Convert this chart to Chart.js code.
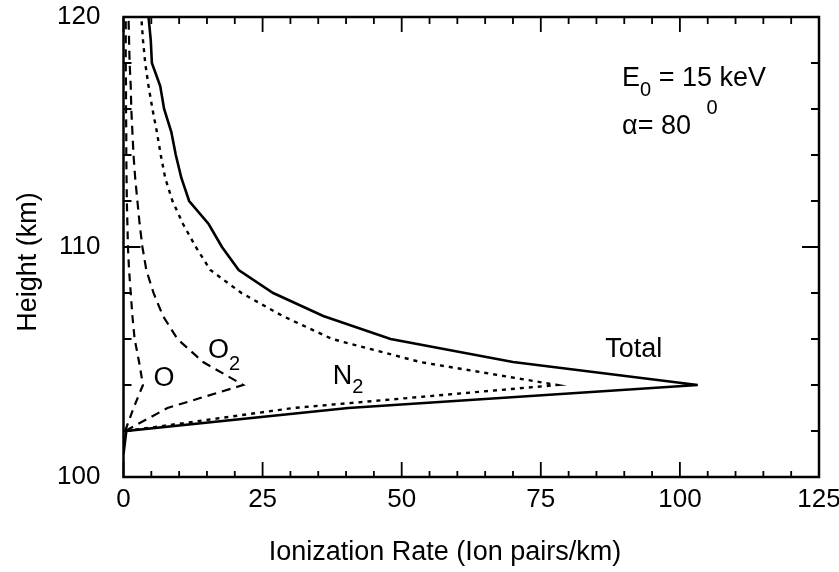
<!DOCTYPE html>
<html><head><meta charset="utf-8">
<script src="https://cdn.jsdelivr.net/npm/chart.js@4/dist/chart.umd.min.js"></script>
<style>html,body{margin:0;padding:0;background:#fff}#wrap{width:839px;height:572px}</style>
</head><body><div id="wrap"><canvas id="c" width="839" height="572"></canvas></div>
<script>
// Heights (km) and ionization rates (ion pairs/km)
const heights = [101, 102, 103, 104, 105, 106, 107, 108, 109, 110, 111, 112, 113, 114, 115, 116, 117, 118, 119, 120];
const total   = [0, 0.5, 40.4, 103.2, 70, 48, 35.9, 26.9, 20.7, 17.7, 15.3, 11.8, 10.4, 9.4, 8.6, 7.3, 6.6, 5.1, 4.9, 4.5];
const n2      = [null, 0.5, 30.5, 78, 53.3, 37.5, 28.6, 21.2, 15.6, 13.0, 10.7, 8.8, 7.5, 6.7, 6.0, 5.2, 4.5, 3.9, 3.5, 3.2];
const o2      = [null, 0.3, 7.9, 21.5, 14.3, 9.7, 7.1, 5.4, 4.1, 3.4, 2.9, 2.5, 2.1, 1.8, 1.6, 1.4, 1.3, 1.1, 1.0, 0.9];
const oAtom   = [null, 0.3, 1.8, 3.5, 2.8, 2.0, 1.6, 1.3, 1.0, 0.8, 0.7, 0.6, 0.55, 0.5, 0.5, 0.45, 0.45, 0.4, 0.4, 0.4];
const xTickLabels = [0, 25, 50, 75, 100, 125];
const yTickLabels = [100, 110, 120];

const FONT = '"Liberation Sans", Arial, Helvetica, sans-serif';

function pts(vals) {
  const out = [];
  vals.forEach((v, i) => { if (v !== null) out.push({x: v, y: heights[i]}); });
  return out;
}

const framePlugin = {
  id: 'frame',
  afterDatasetsDraw(chart) {
    const {ctx, chartArea: a, scales: {x, y}} = chart;
    ctx.save();
    ctx.strokeStyle = '#000';
    ctx.lineWidth = 2.5;
    ctx.strokeRect(a.left, a.top, a.right - a.left, a.bottom - a.top);
    ctx.lineWidth = 1.8;
    for (let v = 0; v <= 125; v += 5) {
      const px = x.getPixelForValue(v);
      const major = v % 25 === 0;
      const lb = major ? 15 : 6, lt = major ? 15 : 7;
      ctx.beginPath();
      ctx.moveTo(px, a.bottom); ctx.lineTo(px, a.bottom - lb);
      ctx.moveTo(px, a.top); ctx.lineTo(px, a.top + lt);
      ctx.stroke();
    }
    for (let v = 100; v <= 120; v += 2) {
      const py = y.getPixelForValue(v);
      const major = v % 10 === 0;
      const l = major ? 17 : 8;
      ctx.beginPath();
      ctx.moveTo(a.left, py); ctx.lineTo(a.left + l, py);
      ctx.moveTo(a.right, py); ctx.lineTo(a.right - l, py);
      ctx.stroke();
    }
    ctx.fillStyle = '#000';
    ctx.textBaseline = 'alphabetic';
    const big = '27px ' + FONT, small = '20px ' + FONT;
    function put(parts, xv, yv, align) {
      let px = x.getPixelForValue(xv);
      const py = y.getPixelForValue(yv);
      if (align === 'center') {
        let w = 0;
        parts.forEach(p => { ctx.font = p.f; w += ctx.measureText(p.t).width + (p.gap || 0); });
        px -= w / 2;
      }
      parts.forEach(p => {
        ctx.font = p.f;
        ctx.textAlign = 'left';
        ctx.fillText(p.t, px + (p.gap || 0), py + (p.dy || 0));
        px += ctx.measureText(p.t).width + (p.gap || 0);
      });
    }
    put([{t: 'Total', f: big}], 91.7, 105.2, 'center');
    put([{t: 'O', f: big}], 7.3, 103.96, 'center');
    put([{t: 'O', f: big}, {t: '2', f: small, dy: 12}], 15.2, 105.17);
    put([{t: 'N', f: big}, {t: '2', f: small, dy: 9}], 37.6, 104.04);
    put([{t: 'E', f: big}, {t: '0', f: small, dy: 10}, {t: ' = 15 keV', f: big}], 89.6, 117.0);
    put([{t: '\u03b1= 80 ', f: big}, {t: '0', f: small, dy: -20, gap: 8}], 89.6, 114.91);
    ctx.restore();
  }
};

const common = {pointRadius: 0, borderColor: '#000', backgroundColor: '#000', showLine: true, tension: 0, fill: false};

new Chart(document.getElementById('c'), {
  type: 'scatter',
  data: {
    datasets: [
      Object.assign({label: 'Total', data: pts(total), borderWidth: 2.6}, common),
      Object.assign({label: 'N2', data: pts(n2), borderWidth: 2.4, borderDash: [4, 5]}, common),
      Object.assign({label: 'O2', data: pts(o2), borderWidth: 2.2, borderDash: [9, 6]}, common),
      Object.assign({label: 'O', data: pts(oAtom), borderWidth: 2.2, borderDash: [8, 6]}, common)
    ]
  },
  options: {
    responsive: false,
    animation: false,
    devicePixelRatio: 1,
    layout: {padding: {top: 17, right: 20, left: 0, bottom: 0}},
    plugins: {legend: {display: false}, tooltip: {enabled: false}},
    scales: {
      x: {
        type: 'linear', min: 0, max: 125,
        afterBuildTicks: s => { s.ticks = xTickLabels.map(v => ({value: v})); },
        afterFit: s => { s.height = 95; s.paddingLeft = 0; s.paddingRight = 0; },
        grid: {display: false, drawTicks: false},
        border: {display: false},
        ticks: {padding: 7, color: '#000', font: {size: 26, family: FONT}, autoSkip: false, maxRotation: 0},
        title: {display: true, text: 'Ionization Rate (Ion pairs/km)       ', color: '#000', font: {size: 27, family: FONT}, padding: {top: 0, bottom: 3}}
      },
      y: {
        type: 'linear', min: 100, max: 120,
        afterBuildTicks: s => { s.ticks = yTickLabels.map(v => ({value: v})); },
        afterFit: s => { s.width = 123.5; s.paddingTop = 0; s.paddingBottom = 0; },
        grid: {display: false, drawTicks: false},
        border: {display: false},
        ticks: {padding: 23, color: '#000', font: {size: 26, family: FONT}, autoSkip: false},
        title: {display: true, text: 'Height (km)    ', color: '#000', font: {size: 27, family: FONT}, padding: {top: 12, bottom: 0}}
      }
    }
  },
  plugins: [framePlugin]
});
</script>
</body></html>
